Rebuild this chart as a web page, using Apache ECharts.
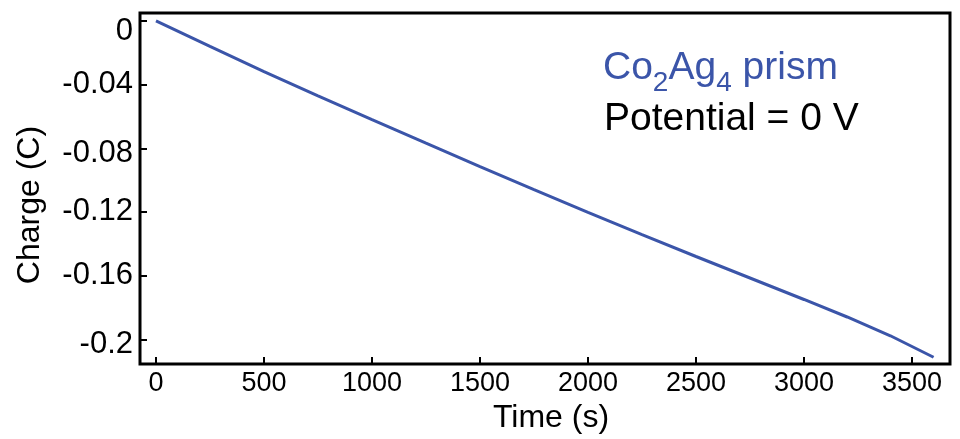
<!DOCTYPE html>
<html>
<head>
<meta charset="utf-8">
<script src="https://cdn.jsdelivr.net/npm/echarts@6/dist/echarts.min.js"></script>
<style>html,body{margin:0;padding:0;background:#fff;}#c{width:960px;height:439px;}</style>
</head>
<body>
<div id="c"></div>
<script>
// Data
const timeS = [0, 250, 500, 750, 1000, 1250, 1500, 1750, 2000, 2250, 2500, 2750, 3000, 3200, 3400, 3600];
const chargeC = [0, -0.0160, -0.0318, -0.0470, -0.0620, -0.0768, -0.0915, -0.1060, -0.1203, -0.1343, -0.1480, -0.1615, -0.1750, -0.1860, -0.1978, -0.2113];
const xTicks = [0, 500, 1000, 1500, 2000, 2500, 3000, 3500];
const yTicks = [0, -0.04, -0.08, -0.12, -0.16, -0.2];
const yTickLabels = ['0', '-0.04', '-0.08', '-0.12', '-0.16', '-0.2'];

const blue = '#3b55a9';
const font = "'Liberation Sans', Arial, sans-serif";
const labelShift = [20, 0, 10, 0, 0, 10];
const yRich = {};
labelShift.forEach(function (p, i) {
  yRich['l' + i] = { fontFamily: font, fontSize: 31, color: '#000', padding: [p, 0, 0, 0] };
});
const chart = echarts.init(document.getElementById('c'));
chart.setOption({
  animation: false,
  grid: { left: 140, right: 10, top: 13, bottom: 73, show: true, borderColor: '#000', borderWidth: 3, backgroundColor: 'transparent' },
  xAxis: {
    type: 'value', min: -74, max: 3676,
    name: 'Time (s)', nameLocation: 'middle', nameGap: 33,
    nameTextStyle: { fontFamily: font, fontSize: 32, color: '#000', verticalAlign: 'top', padding: [0, 0, 0, 12] },
    axisLine: { show: false, onZero: false },
    splitLine: { show: false },
    axisTick: { inside: true, length: 7, lineStyle: { color: '#000', width: 2 }, customValues: xTicks },
    axisLabel: { customValues: xTicks, margin: 6, fontFamily: font, fontSize: 27, color: '#000', formatter: function (v) { return String(v); } }
  },
  yAxis: {
    type: 'value', min: -0.2156, max: 0.005,
    axisLine: { show: false, onZero: false },
    splitLine: { show: false },
    axisTick: { inside: true, length: 7, lineStyle: { color: '#000', width: 2 }, customValues: yTicks },
    axisLabel: {
      customValues: yTicks, margin: 7, fontFamily: font, fontSize: 31, color: '#000',
      rich: yRich,
      formatter: function (v) {
        const i = yTicks.findIndex(t => Math.abs(t - v) < 1e-9);
        return i >= 0 ? '{l' + i + '|' + yTickLabels[i] + '}' : '';
      }
    }
  },
  series: [{
    type: 'line', data: timeS.map((t, i) => [t, chargeC[i]]),
    showSymbol: false, smooth: false,
    lineStyle: { color: blue, width: 3 }
  }],
  graphic: [
    {
      type: 'text', x: 30, y: 205, rotation: Math.PI / 2,
      style: { text: 'Charge (C)', fontFamily: font, fontSize: 32, fill: '#000', align: 'center', verticalAlign: 'middle' }
    },
    {
      type: 'text', left: 603, top: 40,
      style: {
        text: '{a|Co}{s|2}{a|Ag}{s|4}{a| prism}',
        rich: {
          a: { fontFamily: font, fontSize: 39, lineHeight: 39, verticalAlign: 'top', fill: blue },
          s: { fontFamily: font, fontSize: 28, lineHeight: 28, padding: [29, 0, 0, 0], fill: blue }
        }
      }
    },
    {
      type: 'text', left: 604, top: 100,
      style: { text: 'Potential = 0 V', fontFamily: font, fontSize: 39, lineHeight: 39, fill: '#000' }
    }
  ]
});
</script>
</body>
</html>
